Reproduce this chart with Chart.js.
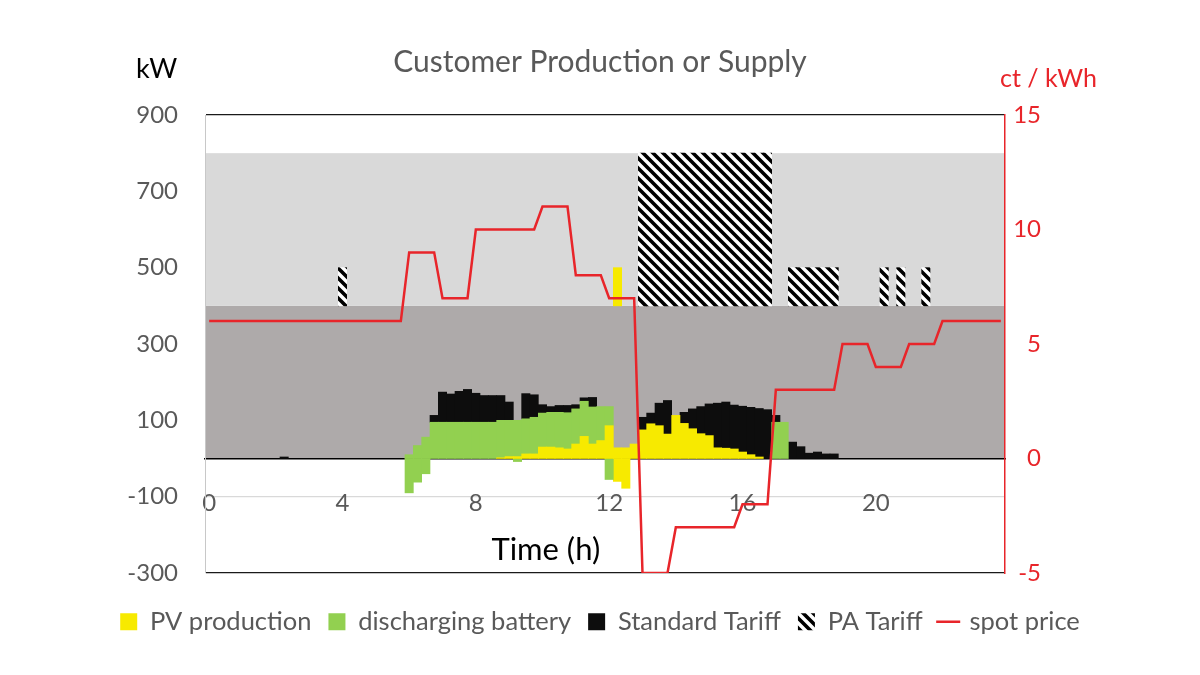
<!DOCTYPE html>
<html>
<head>
<meta charset="utf-8">
<script src="https://cdn.jsdelivr.net/npm/chart.js@4.4.1/dist/chart.umd.min.js"></script>
<style>
  html, body { margin: 0; padding: 0; background: #fff; }
</style>
</head>
<body>
<canvas id="myChart" width="1200" height="675"></canvas>
<script>
// 15-minute slots over one day
const slots = [];
for (let h = 0; h < 24; h++) {
  ['00', '15', '30', '45'].forEach(m => slots.push(h + ':' + m));
}
const hourTicks = ['0', '4', '8', '12', '16', '20'];

// kW, one value per 15 minutes (rows = 4 hours)
const pvProduction = [
  0,0,0,0,0,0,0,0,0,0,0,0,0,0,0,0,
  0,0,0,0,0,0,0,0,0,0,0,0,0,0,0,0,
  0,0,0,2,5,5,12,12,30,30,28,25,38,58,38,47,
  86,28,28,38,75,91,86,64,113,92,78,65,60,28,27,25,
  17,10,4,0,0,0,0,0,0,0,0,0,0,0,0,0,
  0,0,0,0,0,0,0,0,0,0,0,0,0,0,0,0
];
const batteryDischarge = [
  0,0,0,0,0,0,0,0,0,0,0,0,0,0,0,0,
  0,0,0,0,0,0,0,0,10,34,56,95,95,95,95,95,
  95,95,95,98,95,95,92,96,89,91,93,95,92,92,97,89,
  50,0,0,0,0,0,0,0,0,0,0,0,0,0,0,0,
  0,0,0,0,95,95,0,0,0,0,0,0,0,0,0,0,
  0,0,0,0,0,0,0,0,0,0,0,0,0,0,0,0
];
const standardTariff = [
  0,0,0,0,0,0,0,0,0,4,0,0,0,0,0,0,
  0,0,0,0,0,0,0,0,0,0,0,18,79,74,81,86,
  76,70,70,65,48,0,66,59,22,15,18,19,11,9,25,0,
  0,0,0,0,33,28,59,88,0,29,52,71,83,117,121,115,
  120,124,127,128,18,0,43,31,14,17,12,12,0,0,0,0,
  0,0,0,0,0,0,0,0,0,0,0,0,0,0,0,0
];
const batteryCharge = [
  0,0,0,0,0,0,0,0,0,0,0,0,0,0,0,0,
  0,0,0,0,0,0,0,0,-90,-62,-40,0,0,0,0,0,
  0,0,0,0,0,-8,0,0,0,0,0,0,0,0,0,0,
  -55,0,0,0,0,0,0,0,0,0,0,0,0,0,0,0,
  0,0,0,0,0,0,0,0,0,0,0,0,0,0,0,0,
  0,0,0,0,0,0,0,0,0,0,0,0,0,0,0,0
];
const pvFeedIn = [
  0,0,0,0,0,0,0,0,0,0,0,0,0,0,0,0,
  0,0,0,0,0,0,0,0,0,0,0,0,0,0,0,0,
  0,0,0,0,0,0,0,0,0,0,0,0,0,0,0,0,
  0,-60,-78,0,0,0,0,0,0,0,0,0,0,0,0,0,
  0,0,0,0,0,0,0,0,0,0,0,0,0,0,0,0,
  0,0,0,0,0,0,0,0,0,0,0,0,0,0,0,0
];
// PA tariff blocks sit on the 400 kW line
const paBase = 400;
const _ = null;
const paTariffTop = [
  _,_,_,_,_,_,_,_,_,_,_,_,_,_,_,_,
  500,_,_,_,_,_,_,_,_,_,_,_,_,_,_,_,
  _,_,_,_,_,_,_,_,_,_,_,_,_,_,_,_,
  _,_,_,_,800,800,800,800,800,800,800,800,800,800,800,800,
  800,800,800,800,_,_,500,500,500,500,500,500,_,_,_,_,
  _,500,_,500,_,_,500,_,_,_,_,_,_,_,_,_
];
const pvPaTop = [
  _,_,_,_,_,_,_,_,_,_,_,_,_,_,_,_,
  _,_,_,_,_,_,_,_,_,_,_,_,_,_,_,_,
  _,_,_,_,_,_,_,_,_,_,_,_,_,_,_,_,
  _,500,_,_,_,_,_,_,_,_,_,_,_,_,_,_,
  _,_,_,_,_,_,_,_,_,_,_,_,_,_,_,_,
  _,_,_,_,_,_,_,_,_,_,_,_,_,_,_,_
];
// ct / kWh
const spotPrice = [
  6,6,6,6,6,6,6,6,6,6,6,6,6,6,6,6,
  6,6,6,6,6,6,6,6,9,9,9,9,7,7,7,7,
  10,10,10,10,10,10,10,10,11,11,11,11,8,8,8,8,
  7,7,7,7,-5,-5,-5,-5,-3,-3,-3,-3,-3,-3,-3,-3,
  -2,-2,-2,-2,3,3,3,3,3,3,3,3,5,5,5,5,
  4,4,4,4,5,5,5,5,6,6,6,6,6,6,6,6
];

// grey capacity bands behind the bars
const bandEdges = [0, 400, 800];
const bandColors = ['#aeaaaa', '#d9d9d9'];

const RED = '#e8252a';
const canvas = document.getElementById('myChart');
const ctx0 = canvas.getContext('2d');

function makeHatch() {
  const c = document.createElement('canvas');
  c.width = 10; c.height = 10;
  const g = c.getContext('2d');
  g.fillStyle = '#fff';
  g.fillRect(0, 0, 10, 10);
  g.strokeStyle = '#000';
  g.lineWidth = 3.6;
  g.beginPath();
  g.moveTo(-2, -2); g.lineTo(12, 12);
  g.moveTo(-2, 8); g.lineTo(2, 12);
  g.moveTo(8, -2); g.lineTo(12, 2);
  g.stroke();
  return ctx0.createPattern(c, 'repeat');
}
const hatch = makeHatch();

// zero slots draw nothing
const bars = arr => arr.map(v => v === 0 ? null : v);
const toFloat = arr => arr.map(v => v === null ? null : [paBase, v]);

const bandsPlugin = {
  id: 'bands',
  beforeDraw(chart) {
    const { ctx, chartArea: a, scales: { y } } = chart;
    ctx.save();
    for (let i = 0; i < bandColors.length; i++) {
      const top = y.getPixelForValue(bandEdges[i + 1]);
      const bottom = y.getPixelForValue(bandEdges[i]);
      ctx.fillStyle = bandColors[i];
      ctx.fillRect(a.left, top, a.right - a.left, bottom - top);
    }
    ctx.restore();
  }
};

const textPlugin = {
  id: 'texts',
  afterDraw(chart) {
    const { ctx, chartArea: a, scales: { y2 } } = chart;
    ctx.save();
    ctx.textBaseline = 'middle';
    ctx.textAlign = 'center';
    ctx.fillStyle = '#595959';
    ctx.font = '30px Lato';
    ctx.fillText('Customer Production or Supply', chart.width / 2, 62);
    ctx.fillStyle = '#000';
    ctx.font = '31px Lato';
    ctx.fillText('Time (h)', a.left + (a.right - a.left) * 0.426, 550);
    ctx.textAlign = 'left';
    ctx.font = '27px Lato';
    ctx.fillText('kW', 136, 69);
    ctx.fillStyle = RED;
    ctx.font = '25px Lato';
    ctx.fillText('ct / kWh', 1000, 79);
    // right axis labels, right-aligned next to the axis
    ctx.textAlign = 'right';
    ctx.font = '24px Lato';
    y2.ticks.forEach(t => {
      ctx.fillText(String(t.value), a.right + 36, y2.getPixelForValue(t.value));
    });
    ctx.restore();
  }
};

Chart.defaults.font.family = 'Lato';

new Chart(canvas, {
  type: 'bar',
  data: {
    labels: slots,
    datasets: [
      { label: 'PV production', data: bars(pvProduction), backgroundColor: '#f7ea00', order: 1, pointStyle: 'rect' },
      { label: 'discharging battery', data: bars(batteryDischarge), backgroundColor: '#92d050', order: 1, pointStyle: 'rect' },
      { label: 'Standard Tariff', data: bars(standardTariff), backgroundColor: '#0d0d0d', order: 1, pointStyle: 'rect' },
      { label: 'PA Tariff', data: toFloat(paTariffTop), backgroundColor: hatch, order: 1, pointStyle: 'rect', stack: 'pa', grouped: false },
      { type: 'line', label: 'spot price', data: spotPrice, yAxisID: 'y2', borderColor: RED, backgroundColor: RED,
        borderWidth: 2.5, pointRadius: 0, tension: 0, order: 0, pointStyle: 'line' },
      { label: 'battery charging', data: bars(batteryCharge), backgroundColor: '#92d050', order: 1 },
      { label: 'PV feed-in', data: bars(pvFeedIn), backgroundColor: '#f7ea00', order: 1 },
      { label: 'PV PA', data: toFloat(pvPaTop), backgroundColor: '#f7ea00', order: 1, stack: 'pvpa', grouped: false }
    ]
  },
  options: {
    responsive: false,
    animation: false,
    barPercentage: 1,
    categoryPercentage: 1,
    layout: { padding: { top: 115, left: 0, right: 0, bottom: 30.5 } },
    scales: {
      x: {
        stacked: true,
        position: { y: 0 },
        grid: { display: false },
        border: { color: '#000', width: 1.5 },
        ticks: {
          autoSkip: false,
          maxRotation: 0,
          padding: 22,
          color: '#595959',
          font: { size: 24 },
          callback: (v, i) => i % 16 === 0 ? hourTicks[i / 16] : ''
        }
      },
      y: {
        stacked: true,
        min: -300,
        max: 900,
        afterFit: s => { s.width = 205; },
        ticks: { stepSize: 200, padding: 27, color: '#595959', font: { size: 24 } },
        border: { color: '#c8c8c8', width: 1 },
        grid: {
          drawTicks: false,
          lineWidth: 1.2,
          color: c => {
            const v = c.tick && c.tick.value;
            if (v === 900 || v === -300) return '#1a1a1a';
            if (v === -100) return '#d9d9d9';
            return 'rgba(0,0,0,0)';
          }
        }
      },
      y2: {
        position: 'right',
        min: -5,
        max: 15,
        afterFit: s => { s.width = 195; },
        ticks: { stepSize: 5, display: false },
        border: { color: RED, width: 1.5 },
        grid: { display: false, drawTicks: false }
      }
    },
    plugins: {
      tooltip: { enabled: false },
      legend: {
        position: 'bottom',
        title: { display: true, text: ' ', font: { size: 10 }, padding: { top: 7, bottom: 0 } },
        labels: {
          usePointStyle: true,
          boxWidth: 17,
          boxHeight: 17,
          padding: 17,
          color: '#595959',
          font: { size: 25.5 },
          filter: item => item.datasetIndex < 5,
          sort: (a, b) => a.datasetIndex - b.datasetIndex
        }
      }
    }
  },
  plugins: [bandsPlugin, textPlugin]
});
</script>
</body>
</html>
